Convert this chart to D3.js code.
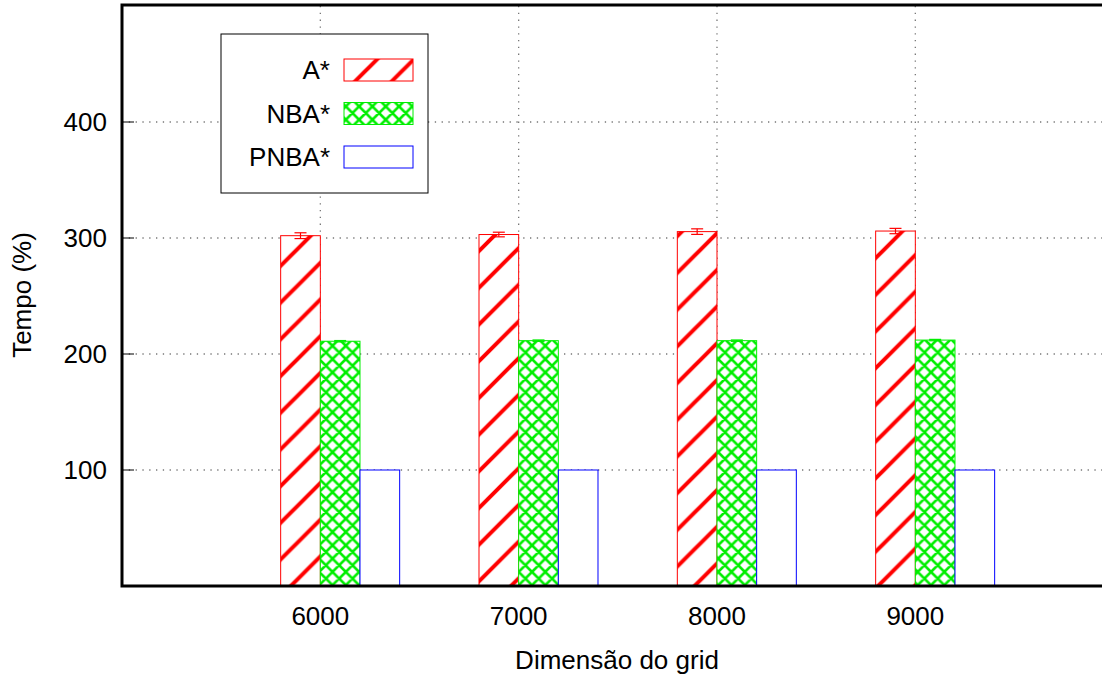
<!DOCTYPE html>
<html>
<head>
<meta charset="utf-8">
<script src="https://cdn.jsdelivr.net/npm/d3@7"></script>
<style>
  html, body { margin: 0; padding: 0; background: #fff; }
  svg { display: block; font-family: "Liberation Sans", Arial, sans-serif; }
</style>
</head>
<body>
<svg id="chart" width="1102" height="674"></svg>
<script>
// Grid sizes on the x axis
const categories = [6000, 7000, 8000, 9000];
// Run time (%) for each algorithm, with error margins
const aStar     = [302, 303, 305.5, 306];
const aStarErr  = [2.5, 2.0, 2.4, 2.3];
const nbaStar   = [211, 211.5, 211.5, 212];
const nbaErr    = [0.6, 0.6, 0.6, 0.6];
const pnbaStar  = [100, 100, 100, 100];
const pnbaErr   = [0, 0, 0, 0];
const seriesNames = ["A*", "NBA*", "PNBA*"];
const yTicks = [100, 200, 300, 400];

const svg = d3.select("#chart");
const W = 1102, H = 674;
const plotLeft = 122, plotTop = 6, plotBottom = 586;

const x = d3.scaleLinear().domain([5000, 10000]).range([plotLeft, plotLeft + 5 * 198.33]);
const y = d3.scaleLinear().domain([0, 500]).range([plotBottom, plotTop]);

// Fill patterns
const defs = svg.append("defs");
const s = 36.7;
const hatch = defs.append("pattern")
  .attr("id", "hatchRed").attr("patternUnits", "userSpaceOnUse")
  .attr("width", s).attr("height", s)
  .attr("patternTransform", "translate(0,-4)");
hatch.append("rect").attr("width", s).attr("height", s).attr("fill", "#fff");
hatch.append("path")
  .attr("d", `M${-s/2},${s/2} L${s/2},${-s/2} M0,${s} L${s},0 M${s/2},${s*1.5} L${s*1.5},${s/2}`)
  .attr("stroke", "#ff0000").attr("stroke-width", 4);

const c = 13.3;
const cross = defs.append("pattern")
  .attr("id", "crossGreen").attr("patternUnits", "userSpaceOnUse")
  .attr("width", c).attr("height", c);
cross.append("rect").attr("width", c).attr("height", c).attr("fill", "#fff");
cross.append("path")
  .attr("d", `M0,0 L${c},${c} M0,${c} L${c},0 M${-c/2},${c/2} L0,${c} M${c/2},${-c/2} L${c*1.5},${c/2} M${-c/2},${c/2} L${c/2},${-c/2} M${c/2},${c*1.5} L${c*1.5},${c/2}`)
  .attr("stroke", "#00ee00").attr("stroke-width", 2.6);

const series = [
  { name: seriesNames[0], values: aStar,    err: aStarErr, fill: "url(#hatchRed)",   color: "#ff0000", offset: -200 },
  { name: seriesNames[1], values: nbaStar,  err: nbaErr,   fill: "url(#crossGreen)", color: "#00ee00", offset: 0 },
  { name: seriesNames[2], values: pnbaStar, err: pnbaErr,  fill: "#ffffff",          color: "#0000ff", offset: 200 }
];
const barW = 200;

// Dotted grid
const grid = svg.append("g").attr("stroke", "#777").attr("stroke-width", 1.3)
  .attr("stroke-dasharray", "1.3,5.5");
grid.selectAll("line.h").data(yTicks).join("line")
  .attr("x1", plotLeft).attr("x2", W).attr("y1", d => y(d)).attr("y2", d => y(d));
grid.selectAll("line.v").data(categories).join("line")
  .attr("x1", d => x(d)).attr("x2", d => x(d)).attr("y1", plotTop).attr("y2", plotBottom);

// Tick marks (inward)
const ticks = svg.append("g").attr("stroke", "#000").attr("stroke-width", 1);
ticks.selectAll("line.y").data(yTicks).join("line")
  .attr("x1", plotLeft).attr("x2", plotLeft + 12).attr("y1", d => y(d)).attr("y2", d => y(d));
ticks.selectAll("line.x").data(categories).join("line")
  .attr("x1", d => x(d)).attr("x2", d => x(d)).attr("y1", plotBottom).attr("y2", plotBottom - 12);

// Bars
series.forEach(sr => {
  const g = svg.append("g");
  g.selectAll("rect").data(categories).join("rect")
    .attr("x", d => x(d + sr.offset))
    .attr("width", d => x(d + sr.offset + barW) - x(d + sr.offset))
    .attr("y", (d, i) => y(sr.values[i]))
    .attr("height", (d, i) => y(0) - y(sr.values[i]))
    .attr("fill", sr.fill)
    .attr("stroke", sr.color).attr("stroke-width", 1);
  // Error bars
  const eb = g.append("g").attr("stroke", sr.color).attr("stroke-width", 1.2);
  categories.forEach((d, i) => {
    if (sr.err[i] <= 0) return;
    const cx = x(d + sr.offset + barW / 2);
    const y1 = y(sr.values[i] - sr.err[i]), y2 = y(sr.values[i] + sr.err[i]);
    eb.append("line").attr("x1", cx).attr("x2", cx).attr("y1", y1).attr("y2", y2);
    eb.append("line").attr("x1", cx - 6).attr("x2", cx + 6).attr("y1", y1).attr("y2", y1);
    eb.append("line").attr("x1", cx - 6).attr("x2", cx + 6).attr("y1", y2).attr("y2", y2);
  });
});

// Border (left, top, bottom)
svg.append("path")
  .attr("d", `M${W},${plotTop - 1} L${plotLeft},${plotTop - 1} L${plotLeft},${plotBottom} L${W},${plotBottom}`)
  .attr("fill", "none").attr("stroke", "#000").attr("stroke-width", 3);

// Tick labels
const fs = 26;
svg.append("g").selectAll("text").data(yTicks).join("text")
  .attr("x", plotLeft - 15).attr("y", d => y(d)).attr("dy", "0.35em")
  .attr("text-anchor", "end").attr("font-size", fs).attr("fill", "#000")
  .text(d => d);
svg.append("g").selectAll("text").data(categories).join("text")
  .attr("x", d => x(d)).attr("y", 616).attr("dy", "0.35em")
  .attr("text-anchor", "middle").attr("font-size", fs).attr("fill", "#000")
  .text(d => d);

// Axis titles
svg.append("text").attr("x", 617).attr("y", 660).attr("dy", "0.35em")
  .attr("text-anchor", "middle").attr("font-size", fs).text("Dimensão do grid");
svg.append("text").attr("transform", "translate(22,295) rotate(-90)").attr("dy", "0.35em")
  .attr("text-anchor", "middle").attr("font-size", fs).text("Tempo (%)");

// Legend
const lg = svg.append("g");
lg.append("rect").attr("x", 221).attr("y", 34).attr("width", 207).attr("height", 159)
  .attr("fill", "#fff").attr("stroke", "#000").attr("stroke-width", 1);
series.forEach((sr, i) => {
  const cy = 70 + i * 43.5;
  lg.append("text").attr("x", 330).attr("y", cy).attr("dy", "0.35em")
    .attr("text-anchor", "end").attr("font-size", fs).text(sr.name);
  lg.append("rect").attr("x", 344).attr("y", cy - 11).attr("width", 69).attr("height", 22)
    .attr("fill", sr.fill).attr("stroke", sr.color).attr("stroke-width", 1);
});
</script>
</body>
</html>
